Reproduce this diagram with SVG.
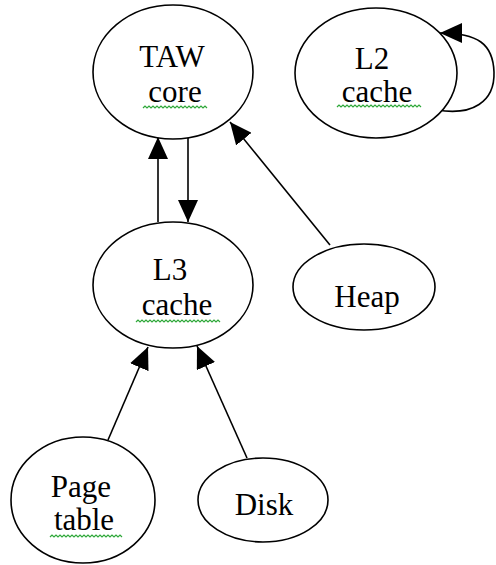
<svg xmlns="http://www.w3.org/2000/svg" width="496" height="565" viewBox="0 0 496 565">
<defs>
<marker id="ah" viewBox="0 0 22 20" refX="22" refY="10" markerWidth="22" markerHeight="20" markerUnits="userSpaceOnUse" orient="auto">
<path d="M0,0 L22,10 L0,20 z" fill="#000"/>
</marker>
</defs>
<style>
.n ellipse{fill:#fff;stroke:#000;stroke-width:1.6}
text{font-family:'Liberation Serif','DejaVu Serif',serif;font-size:31px;fill:#000;text-anchor:middle}
.sq{fill:none;stroke:#2fa83a;stroke-width:1.2}
.e path,.e line{fill:none;stroke:#000;stroke-width:1.6}
</style>
<rect width="496" height="565" fill="#fff"/>
<g id="connectors" class="e">
<line x1="158" y1="222" x2="158" y2="137" marker-end="url(#ah)"/>
<line x1="188" y1="138" x2="188" y2="222" marker-end="url(#ah)"/>
<line x1="330" y1="245" x2="230" y2="122" marker-end="url(#ah)"/>
<line x1="108" y1="440" x2="148" y2="347" marker-end="url(#ah)"/>
<line x1="247" y1="458" x2="197" y2="346" marker-end="url(#ah)"/>
<path d="M437,110 C472,116 495,102 494,72 C493,44 478,33 440,33" marker-end="url(#ah)"/>
</g>
<g id="taw" class="n">
<ellipse cx="173" cy="72" rx="80" ry="67"/>
<text x="172" y="67" font-family="Liberation Serif, serif">TAW</text>
<text x="175" y="102" font-family="Liberation Serif, serif">core</text>
<path class="sq" d="M143,108 l2,-2 l2,2 l2,-2 l2,2 l2,-2 l2,2 l2,-2 l2,2 l2,-2 l2,2 l2,-2 l2,2 l2,-2 l2,2 l2,-2 l2,2 l2,-2 l2,2 l2,-2 l2,2 l2,-2 l2,2 l2,-2 l2,2 l2,-2 l2,2 l2,-2 l2,2 l2,-2 l2,2 l2,-2 l2,2"/>
</g>
<g id="l2" class="n">
<ellipse cx="376" cy="73" rx="81" ry="65"/>
<text x="372" y="69" font-family="Liberation Serif, serif">L2</text>
<text x="377" y="102" font-family="Liberation Serif, serif">cache</text>
<path class="sq" d="M337,107 l2,-2 l2,2 l2,-2 l2,2 l2,-2 l2,2 l2,-2 l2,2 l2,-2 l2,2 l2,-2 l2,2 l2,-2 l2,2 l2,-2 l2,2 l2,-2 l2,2 l2,-2 l2,2 l2,-2 l2,2 l2,-2 l2,2 l2,-2 l2,2 l2,-2 l2,2 l2,-2 l2,2 l2,-2 l2,2 l2,-2 l2,2 l2,-2 l2,2 l2,-2 l2,2 l2,-2 l2,2 l2,-2 l2,2"/>
</g>
<g id="l3" class="n">
<ellipse cx="173" cy="285" rx="80" ry="63"/>
<text x="170" y="280" font-family="Liberation Serif, serif">L3</text>
<text x="177" y="315" font-family="Liberation Serif, serif">cache</text>
<path class="sq" d="M136,322 l2,-2 l2,2 l2,-2 l2,2 l2,-2 l2,2 l2,-2 l2,2 l2,-2 l2,2 l2,-2 l2,2 l2,-2 l2,2 l2,-2 l2,2 l2,-2 l2,2 l2,-2 l2,2 l2,-2 l2,2 l2,-2 l2,2 l2,-2 l2,2 l2,-2 l2,2 l2,-2 l2,2 l2,-2 l2,2 l2,-2 l2,2 l2,-2 l2,2 l2,-2 l2,2 l2,-2 l2,2 l2,-2 l2,2"/>
</g>
<g id="heap" class="n">
<ellipse cx="364" cy="287" rx="71" ry="43"/>
<text x="367" y="307" font-family="Liberation Serif, serif">Heap</text>
</g>
<g id="pagetable" class="n">
<ellipse cx="83" cy="500" rx="72" ry="63"/>
<text x="81" y="497" font-family="Liberation Serif, serif">Page</text>
<text x="84" y="530" font-family="Liberation Serif, serif">table</text>
<path class="sq" d="M50,537 l2,-2 l2,2 l2,-2 l2,2 l2,-2 l2,2 l2,-2 l2,2 l2,-2 l2,2 l2,-2 l2,2 l2,-2 l2,2 l2,-2 l2,2 l2,-2 l2,2 l2,-2 l2,2 l2,-2 l2,2 l2,-2 l2,2 l2,-2 l2,2 l2,-2 l2,2 l2,-2 l2,2 l2,-2 l2,2 l2,-2 l2,2 l2,-2 l2,2"/>
</g>
<g id="disk" class="n">
<ellipse cx="263" cy="500" rx="65" ry="42"/>
<text x="264" y="515" font-family="Liberation Serif, serif">Disk</text>
</g>
</svg>
